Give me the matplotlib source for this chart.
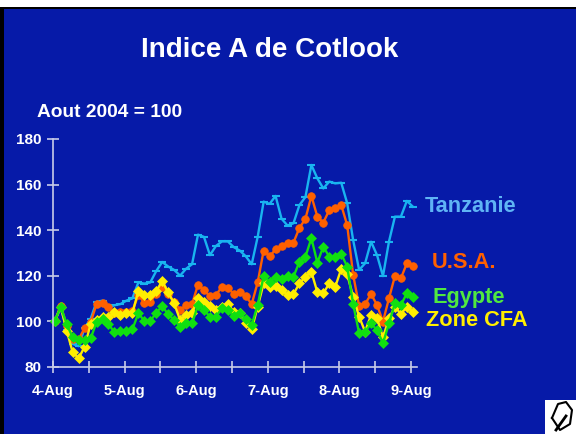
import matplotlib
matplotlib.use("Agg")
import matplotlib.pyplot as plt
from matplotlib.patches import Rectangle
import numpy as np

plt.rcParams['font.family'] = ['Liberation Sans', 'DejaVu Sans']

# monthly index, Aout 2004 = 100
tanzanie = [100, 106, 96, 90, 89, 97, 101, 108.5, 109, 106, 107, 107.5, 109, 110,
            117, 116.5, 117, 122, 126, 124, 122.5, 120, 123, 125,
            138, 137, 129, 133, 135, 135, 132.5, 131, 128.5, 125,
            137, 152.5, 151.5, 155, 145, 142, 143, 151,
            154.5, 168.6, 162.7, 158.3, 161.3, 160.5, 160.8, 151.8,
            135.6, 122.5, 125.4, 134.9, 129, 119.8, 134.9, 145.9, 145.9, 152.8, 150.3]
usa = [100, 106.8, 98, 92, 92, 97, 99.5, 107.5, 108, 106, 103.5, 104, 104, 104.5,
       111.5, 108, 108.5, 112, 115, 112, 108.5, 105, 107, 107.5,
       116, 113.5, 111, 111.5, 115, 114.5, 112, 113, 111, 107.5,
       117, 131, 128.5, 131.5, 133, 134.5, 134.5, 141,
       144.9, 155, 145.9, 143.3, 148.8, 149.5, 151, 142.2,
       120.3, 106.7, 107.5, 111.9, 107.1, 99.8, 110, 119.8, 118.8, 125.4, 124.2]
egypte = [100, 106.4, 98.6, 92.9, 91.7, 91.7, 92.4, 99.5, 101, 98.7, 95.1, 95.8, 95.8, 96.4,
          103.4, 100.2, 100, 103.7, 106.6, 103, 100.5, 97.6, 99, 99,
          107, 104.9, 102, 102, 105.6, 104.9, 102.3, 103.4, 100.8, 98.3,
          107.1, 119.8, 117.3, 119.5, 118.4, 119.8, 119.5, 126.1,
          128.3, 136.4, 125.7, 132.7, 128.3, 128, 129.5, 124,
          107.5, 94.7, 95.4, 99, 96.1, 90.3, 99, 107.8, 107.1, 112.2, 110.7]
zone_cfa = [100, 106.4, 95.8, 86.3, 83.7, 88.8, 98.7, 100.5, 102, 101.7, 103.9, 102.7, 103.4, 103.4,
            113.2, 111.5, 111.5, 113.2, 117.6, 112.6, 107.8, 100.5, 102.7, 103.4,
            110, 108.6, 106.6, 104.9, 106.4, 107.4, 104.2, 103.7, 99, 96.4,
            106.4, 116.6, 115.1, 115.4, 113.7, 111.5, 111.9, 116.6,
            119.5, 121.7, 112.7, 112.2, 116.6, 115.1, 122.9, 120.6,
            110.7, 102, 95.4, 102.7, 101.2, 92.9, 101.2, 106.4, 103.1, 106.4, 104.2]

tick_pos = list(range(0, 61, 6))
tick_labels = ['4-Aug', '', '5-Aug', '', '6-Aug', '', '7-Aug', '', '8-Aug', '', '9-Aug']

series = [
    ('Tanzanie', tanzanie, '#19b4f0', '#5fb4f5', '_', 6, 207, 425),
    ('U.S.A.', usa, '#ff6000', '#ff6000', 'o', 5.5, 263, 432),
    ('Zone CFA', zone_cfa, '#ffee00', '#ffee00', 'D', 5, 320, 426),
    ('Egypte', egypte, '#10e010', '#50e840', 'D', 5, 298, 432),
]

bg = '#061aa8'
W, H = 576, 434
fig = plt.figure(figsize=(W / 100, H / 100), dpi=100, facecolor=bg)

# slide frame: white strip on top, dark edge
fig.patches.append(Rectangle((0, 1 - 7 / H), 1, 7 / H, transform=fig.transFigure,
                             facecolor='white', edgecolor='none', zorder=0))
fig.patches.append(Rectangle((0, 0), 4 / W, 1 - 7 / H, transform=fig.transFigure,
                             facecolor='black', edgecolor='none', zorder=0))
fig.patches.append(Rectangle((0, 1 - 9 / H), 1, 2 / H, transform=fig.transFigure,
                             facecolor='black', edgecolor='none', zorder=0))

ax = fig.add_axes([53 / W, (H - 366.7) / H, 364 / W, 227.7 / H])
ax.set_facecolor('none')

x = np.arange(len(usa)) + 0.3
for name, vals, col, lab_col, mk, ms, ly, lx in series:
    ax.plot(x, vals, color=col, lw=1.7, marker=mk, ms=ms, mew=1.5 if mk == '_' else 0.5,
            mec=col, mfc=col, clip_on=False)
    fig.text(lx / W, 1 - ly / H, name, color=lab_col, fontsize=15.7, fontweight='bold',
             ha='left', va='center')

ax.set_xlim(0, 61)
ax.set_ylim(80, 180)
ax.set_yticks(range(80, 181, 20))
ax.set_xticks(tick_pos)
ax.set_xticklabels(tick_labels)
axis_col = '#c8cce8'
for s in ['top', 'right']:
    ax.spines[s].set_visible(False)
for s in ['left', 'bottom']:
    ax.spines[s].set_color(axis_col)
    ax.spines[s].set_linewidth(1.2)
ax.tick_params(direction='inout', length=9, width=1.2, color=axis_col,
               labelcolor='white', labelsize=11, pad=4)
for lab in ax.get_xticklabels() + ax.get_yticklabels():
    lab.set_fontweight('bold')
ax.tick_params(axis='x', pad=8, labelsize=10.5)

fig.text(270 / W, 1 - 50 / H, 'Indice A de Cotlook', color='white', fontsize=20,
         fontweight='bold', ha='center', va='center')
fig.text(37 / W, 1 - 113 / H, 'Aout 2004 = 100', color='white', fontsize=13.8,
         fontweight='bold', ha='left', va='center')

# small logo box bottom right
fig.patches.append(Rectangle((545 / W, 0), 31 / W, 34 / H, transform=fig.transFigure,
                             facecolor='white', edgecolor='none', zorder=1))
lx = np.array([552, 558, 566, 572, 570, 560, 552]) / W
ly = 1 - np.array([418, 404, 402, 410, 424, 430, 418]) / H
fig.add_artist(plt.Line2D(lx, ly, color='black', lw=1.5, transform=fig.transFigure))
fig.add_artist(plt.Line2D([556 / W, 566 / W], [1 - 430 / H, 1 - 416 / H], color='black',
                          lw=2, transform=fig.transFigure))

fig.savefig('out.png', dpi=100, facecolor=bg)
